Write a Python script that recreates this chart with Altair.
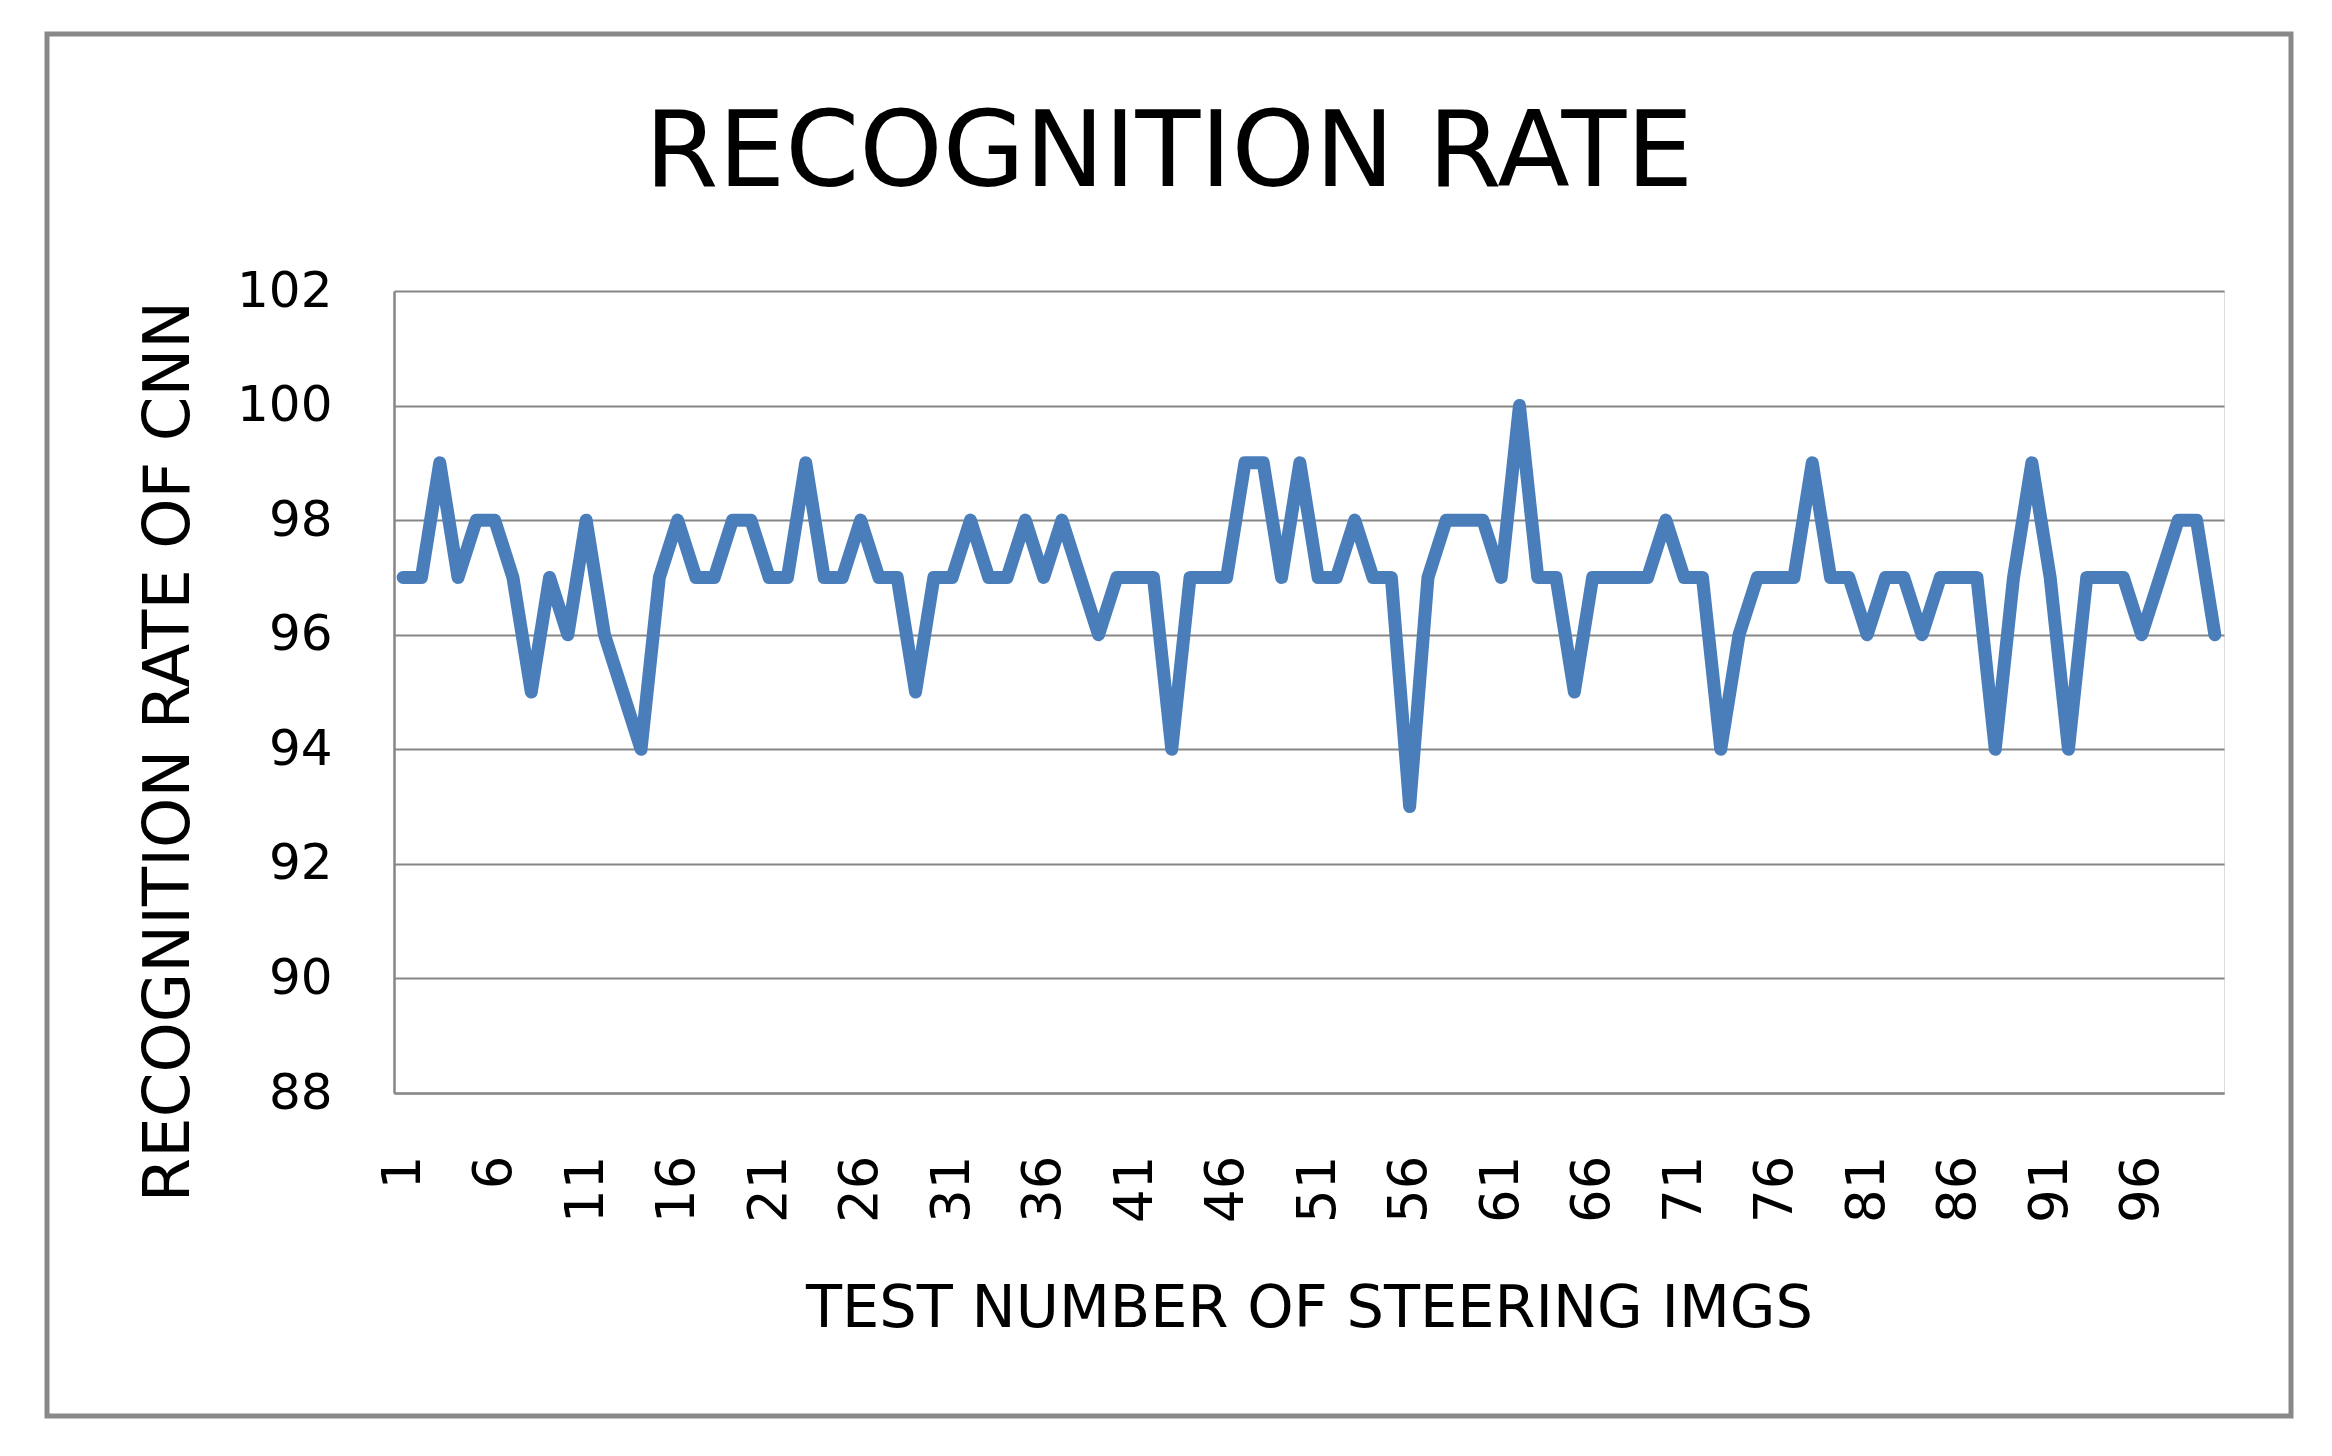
import altair as alt
import pandas as pd

test_number = list(range(1, 101))
recognition_rate = [
    97, 97, 99, 97, 98, 98, 97, 95, 97, 96,
    98, 96, 95, 94, 97, 98, 97, 97, 98, 98,
    97, 97, 99, 97, 97, 98, 97, 97, 95, 97,
    97, 98, 97, 97, 98, 97, 98, 97, 96, 97,
    97, 97, 94, 97, 97, 97, 99, 99, 97, 99,
    97, 97, 98, 97, 97, 93, 97, 98, 98, 98,
    97, 100, 97, 97, 95, 97, 97, 97, 97, 98,
    97, 97, 94, 96, 97, 97, 97, 99, 97, 97,
    96, 97, 97, 96, 97, 97, 97, 94, 97, 99,
    97, 94, 97, 97, 97, 96, 97, 98, 98, 96,
]
x_tick_values = list(range(1, 100, 5))
y_tick_values = list(range(88, 103, 2))
chart_title = "RECOGNITION RATE"

df = pd.DataFrame({"test": test_number, "rate": recognition_rate})

W, H = 1830, 802
FONT = "DejaVu Sans"

line = alt.Chart(df).mark_line(
    color="#4A7EBB", strokeWidth=13, strokeJoin="round", strokeCap="round"
).encode(
    x=alt.X(
        "test:Q",
        scale=alt.Scale(domain=[0.5, 100.5], nice=False, zero=False),
        axis=alt.Axis(
            values=x_tick_values,
            labelAngle=270,
            labelFontSize=53,
            labelFont=FONT,
            labelColor="#000000",
            labelPadding=62,
            ticks=False,
            grid=False,
            domainColor="#8C8C8C",
            domainWidth=2.5,
            title="TEST NUMBER OF STEERING IMGS",
            titleFont=FONT,
            titleFontSize=59,
            titleFontWeight="normal",
            titleColor="#000000",
            titleX=W / 2,
            titleY=233,
            titleBaseline="alphabetic",
            titleAlign="center",
        ),
    ),
    y=alt.Y(
        "rate:Q",
        scale=alt.Scale(domain=[88, 102], nice=False, zero=False),
        axis=alt.Axis(
            values=y_tick_values,
            labelFontSize=50,
            labelFont=FONT,
            labelColor="#000000",
            labelPadding=62,
            ticks=False,
            grid=True,
            gridColor="#868686",
            gridWidth=2,
            domainColor="#868686",
            domainWidth=2.5,
            title="RECOGNITION RATE OF CNN",
            titleFont=FONT,
            titleFontSize=64,
            titleFontWeight="normal",
            titleColor="#000000",
            titleAngle=270,
            titleX=-206,
            titleY=460,
            titleBaseline="alphabetic",
            titleAlign="center",
        ),
    ),
)

frame = alt.Chart(pd.DataFrame({"k": [0]})).mark_rect(
    fill="transparent", stroke="#898989", strokeWidth=5
).encode(
    x=alt.value(-347), x2=alt.value(1897), y=alt.value(-257), y2=alt.value(1125)
)

title = alt.Chart(pd.DataFrame({"t": [chart_title]})).mark_text(
    font=FONT, fontSize=106, color="#000000", align="center", baseline="alphabetic"
).encode(
    text="t:N", x=alt.value(775), y=alt.value(-105)
)

chart = alt.layer(frame, title, line).properties(
    width=W,
    height=H,
    autosize=alt.AutoSizeParams(type="none"),
    padding={"left": 386, "top": 283, "right": 80, "bottom": 340},
).configure_view(stroke=None).configure(background="white")

chart.save("out.html", embed_options={"renderer": "svg", "actions": False})
